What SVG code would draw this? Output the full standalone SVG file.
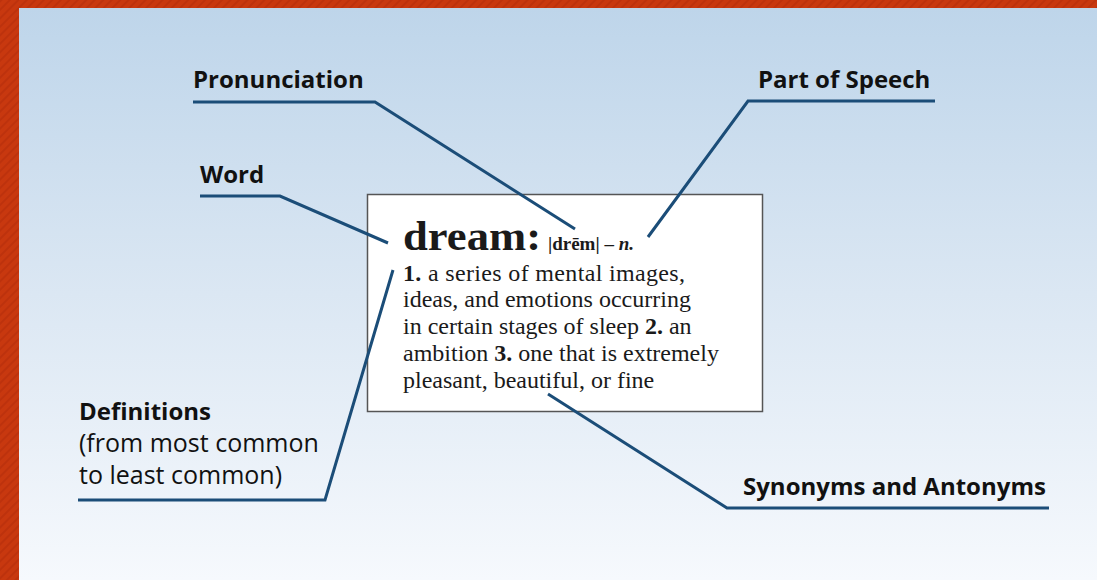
<svg xmlns="http://www.w3.org/2000/svg" width="1097" height="580" viewBox="0 0 1097 580">
  <defs>
    <linearGradient id="bg" x1="0" y1="0" x2="0" y2="1">
      <stop offset="0" stop-color="#bed5ea"/>
      <stop offset="0.5" stop-color="#dbe7f3"/>
      <stop offset="1" stop-color="#f6f9fd"/>
    </linearGradient>
    <pattern id="stripes" width="6" height="6" patternUnits="userSpaceOnUse" patternTransform="rotate(45)">
      <rect width="6" height="6" fill="#c8380f"/>
      <rect width="2" height="6" fill="#bd320d"/>
    </pattern>
    <style>
      .lbl { font-family: "Open Sans", "Liberation Sans", sans-serif; font-size: 25px; fill: #111; }
      .b { font-weight: 700; font-size: 24px; }
      .conn { fill: none; stroke: #1b4d78; stroke-width: 3; stroke-linejoin: miter; }
      .ser { font-family: "Liberation Serif", "Times New Roman", serif; fill: #1a1a1a; }
      .def { font-size: 24px; }
    </style>
  </defs>

  <!-- frame and backdrop -->
  <rect x="0" y="0" width="1097" height="580" fill="url(#stripes)"/>
  <rect x="19" y="8" width="1078" height="572" fill="url(#bg)"/>

  <!-- dictionary entry card -->
  <g id="entry">
    <rect x="367.5" y="194.5" width="395" height="217" fill="#fff" stroke="#555" stroke-width="1.5"/>
    <text class="ser" x="403" y="250" font-size="42" font-weight="700" textLength="138" lengthAdjust="spacingAndGlyphs">dream:</text>
    <text class="ser" x="548" y="250" font-size="19" font-weight="700">|drēm| – <tspan font-style="italic">n.</tspan></text>
    <text class="ser def" x="403" y="281" textLength="282"><tspan font-weight="700">1.</tspan> a series of mental images,</text>
    <text class="ser def" x="403" y="307">ideas, and emotions occurring</text>
    <text class="ser def" x="403" y="334">in certain stages of sleep <tspan font-weight="700">2.</tspan> an</text>
    <text class="ser def" x="403" y="361">ambition <tspan font-weight="700">3.</tspan> one that is extremely</text>
    <text class="ser def" x="403" y="388">pleasant, beautiful, or fine</text>
  </g>

  <!-- callout labels -->
  <g id="pronunciation">
    <text class="lbl b" x="193" y="88">Pronunciation</text>
  </g>
  <g id="part-of-speech">
    <text class="lbl b" x="758" y="88">Part of Speech</text>
  </g>
  <g id="word">
    <text class="lbl b" x="200" y="183">Word</text>
  </g>
  <g id="definitions">
    <text class="lbl b" x="79" y="420">Definitions</text>
    <text class="lbl" x="79" y="452">(from most common</text>
    <text class="lbl" x="79" y="484">to least common)</text>
  </g>
  <g id="synonyms">
    <text class="lbl b" x="743" y="495">Synonyms and Antonyms</text>
  </g>

  <!-- leader lines -->
  <g id="connectors">
    <polyline class="conn" points="193,102 375,102 575,229"/>
    <polyline class="conn" points="935,101 748,101 648,237"/>
    <polyline class="conn" points="200,196 280,196 388,243"/>
    <polyline class="conn" points="393,270 325,500 78,500"/>
    <polyline class="conn" points="548,394 727,508 1049,508"/>
  </g>
</svg>
